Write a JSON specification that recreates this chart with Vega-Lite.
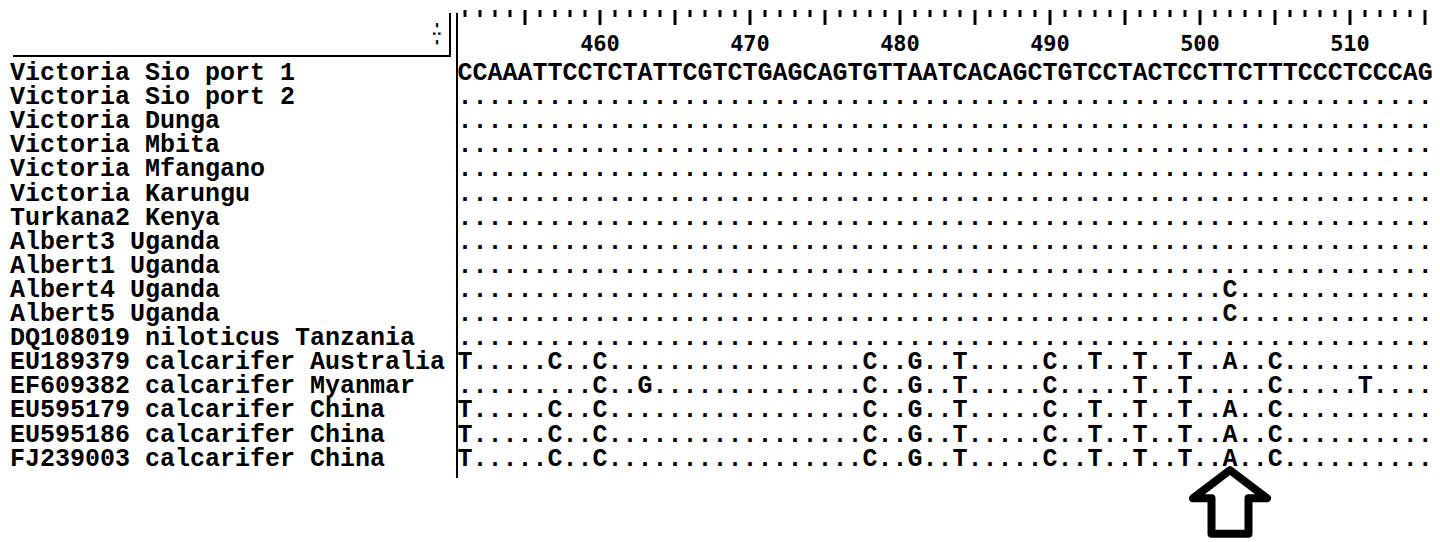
{
  "$schema": "https://vega.github.io/schema/vega-lite/v6.json",
  "width": 1440,
  "height": 542,
  "padding": 0,
  "autosize": {"type": "fit", "contains": "padding"},
  "background": "white",
  "config": {"view": {"stroke": null}, "axisX": {"disable": true}, "axisY": {"disable": true}},
  "datasets": {
    "rows": [
      {"r": 0, "name": "Victoria Sio port 1", "seq": "CCAAATTCCTCTATTCGTCTGAGCAGTGTTAATCACAGCTGTCCTACTCCTTCTTTCCCTCCCAG"},
      {"r": 1, "name": "Victoria Sio port 2", "seq": "................................................................."},
      {"r": 2, "name": "Victoria Dunga", "seq": "................................................................."},
      {"r": 3, "name": "Victoria Mbita", "seq": "................................................................."},
      {"r": 4, "name": "Victoria Mfangano", "seq": "................................................................."},
      {"r": 5, "name": "Victoria Karungu", "seq": "................................................................."},
      {"r": 6, "name": "Turkana2 Kenya", "seq": "................................................................."},
      {"r": 7, "name": "Albert3 Uganda", "seq": "................................................................."},
      {"r": 8, "name": "Albert1 Uganda", "seq": "................................................................."},
      {"r": 9, "name": "Albert4 Uganda", "seq": "...................................................C............."},
      {"r": 10, "name": "Albert5 Uganda", "seq": "...................................................C............."},
      {"r": 11, "name": "DQ108019 niloticus Tanzania", "seq": "................................................................."},
      {"r": 12, "name": "EU189379 calcarifer Australia", "seq": "T.....C..C.................C..G..T.....C..T..T..T..A..C.........."},
      {"r": 13, "name": "EF609382 calcarifer Myanmar", "seq": ".........C..G..............C..G..T.....C.....T..T.....C.....T...."},
      {"r": 14, "name": "EU595179 calcarifer China", "seq": "T.....C..C.................C..G..T.....C..T..T..T..A..C.........."},
      {"r": 15, "name": "EU595186 calcarifer China", "seq": "T.....C..C.................C..G..T.....C..T..T..T..A..C.........."},
      {"r": 16, "name": "FJ239003 calcarifer China", "seq": "T.....C..C.................C..G..T.....C..T..T..T..A..C.........."}
    ],
    "ruler": [
      {"p": 451}, {"p": 452}, {"p": 453}, {"p": 454}, {"p": 455}, {"p": 456}, {"p": 457}, {"p": 458}, {"p": 459}, {"p": 460},
      {"p": 461}, {"p": 462}, {"p": 463}, {"p": 464}, {"p": 465}, {"p": 466}, {"p": 467}, {"p": 468}, {"p": 469}, {"p": 470},
      {"p": 471}, {"p": 472}, {"p": 473}, {"p": 474}, {"p": 475}, {"p": 476}, {"p": 477}, {"p": 478}, {"p": 479}, {"p": 480},
      {"p": 481}, {"p": 482}, {"p": 483}, {"p": 484}, {"p": 485}, {"p": 486}, {"p": 487}, {"p": 488}, {"p": 489}, {"p": 490},
      {"p": 491}, {"p": 492}, {"p": 493}, {"p": 494}, {"p": 495}, {"p": 496}, {"p": 497}, {"p": 498}, {"p": 499}, {"p": 500},
      {"p": 501}, {"p": 502}, {"p": 503}, {"p": 504}, {"p": 505}, {"p": 506}, {"p": 507}, {"p": 508}, {"p": 509}, {"p": 510},
      {"p": 511}, {"p": 512}, {"p": 513}, {"p": 514}, {"p": 515}
    ],
    "marker": [{"p": 502}]
  },
  "layer": [
    {
      "data": {"name": "rows"},
      "mark": {"type": "text", "align": "left", "baseline": "middle", "font": "Liberation Mono", "fontWeight": "bold", "fontSize": 25, "color": "black"},
      "encoding": {
        "x": {"datum": 420.667, "scale": {"domain": [420, 516], "nice": false, "zero": false}, "axis": null},
        "y": {"field": "r", "type": "quantitative", "scale": {"domain": [-2.988, 19.502], "reverse": true, "nice": false, "zero": false}, "axis": null},
        "text": {"field": "name"}
      }
    },
    {
      "data": {"name": "rows"},
      "mark": {"type": "text", "align": "left", "baseline": "middle", "font": "Liberation Mono", "fontWeight": "bold", "fontSize": 25, "color": "black"},
      "encoding": {
        "x": {"datum": 450.5},
        "y": {"field": "r", "type": "quantitative"},
        "text": {"field": "seq"}
      }
    },
    {
      "data": {"name": "ruler"},
      "transform": [{"filter": "datum.p % 5 !== 0"}],
      "mark": {"type": "rule", "strokeWidth": 3, "color": "black"},
      "encoding": {
        "x": {"field": "p", "type": "quantitative"},
        "y": {"datum": -2.573},
        "y2": {"datum": -2.282}
      }
    },
    {
      "data": {"name": "ruler"},
      "transform": [{"filter": "datum.p % 5 === 0"}],
      "mark": {"type": "rule", "strokeWidth": 3, "color": "black"},
      "encoding": {
        "x": {"field": "p", "type": "quantitative"},
        "y": {"datum": -2.573},
        "y2": {"datum": -1.95}
      }
    },
    {
      "data": {"name": "ruler"},
      "transform": [{"filter": "datum.p % 10 === 0"}],
      "mark": {"type": "text", "align": "center", "baseline": "middle", "font": "DejaVu Sans Mono", "fontWeight": "bold", "fontSize": 22, "color": "black"},
      "encoding": {
        "x": {"field": "p", "type": "quantitative"},
        "y": {"datum": -1.16},
        "text": {"field": "p", "type": "quantitative", "format": "d"}
      }
    },
    {
      "data": {"values": [{}]},
      "mark": {"type": "rule", "strokeWidth": 2, "color": "black"},
      "encoding": {"x": {"datum": 420.867}, "x2": {"datum": 450.0}, "y": {"datum": -0.664}}
    },
    {
      "data": {"values": [{}]},
      "mark": {"type": "rule", "strokeWidth": 2, "color": "black"},
      "encoding": {"x": {"datum": 450.0}, "y": {"datum": -2.448}, "y2": {"datum": -0.622}}
    },
    {
      "data": {"values": [{}]},
      "mark": {"type": "rule", "strokeWidth": 2, "color": "black"},
      "encoding": {"x": {"datum": 450.467}, "y": {"datum": -2.448}, "y2": {"datum": 16.85}}
    },
    {
      "data": {"values": [{"g": "-:-"}]},
      "mark": {"type": "text", "align": "center", "baseline": "middle", "angle": 90, "font": "DejaVu Sans Mono", "fontWeight": "bold", "fontSize": 14, "color": "black"},
      "encoding": {"x": {"datum": 449.133}, "y": {"datum": -1.59}, "text": {"field": "g"}}
    },
    {
      "data": {"name": "marker"},
      "mark": {"type": "point", "filled": true, "fill": "white", "stroke": "black", "strokeWidth": 8, "strokeJoin": "round", "opacity": 1, "size": 5476, "shape": "M0,-0.86 L1,-0.1 L0.5,-0.1 L0.5,0.86 L-0.5,0.86 L-0.5,-0.1 L-1,-0.1 Z"},
      "encoding": {
        "x": {"field": "p", "type": "quantitative"},
        "y": {"datum": 17.84}
      }
    }
  ]
}
